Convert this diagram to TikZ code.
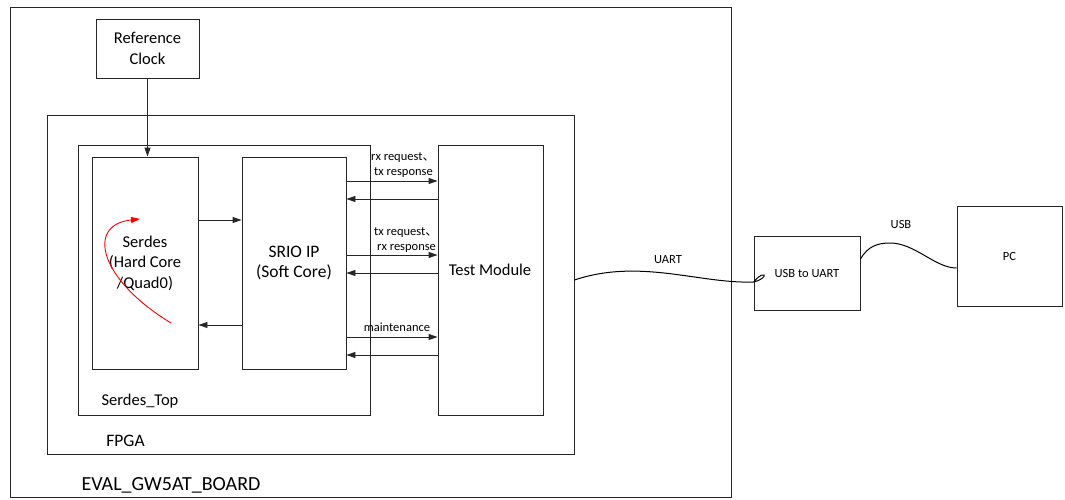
\documentclass[tikz,border=0pt]{standalone}
\usepackage{fontspec}
\setmainfont{Carlito}
\newfontfamily\cjkfont{Noto Sans CJK SC}
\usetikzlibrary{arrows.meta}
\newcommand{\dun}{{\cjkfont 、}}
\tikzset{
  x=1pt, y=-1pt,
  box/.style={draw=black!85, line width=0.9pt, rectangle, inner sep=0pt, align=center},
  bigtxt/.style={font=\fontsize{16.5}{20.5}\selectfont},
  smalltxt/.style={font=\fontsize{12.5}{15}\selectfont, inner sep=0pt},
  link/.style={draw=black!85, line width=0.9pt, -{Triangle[length=9pt,width=6pt]}},
  cable/.style={draw=black, line width=1pt},
  loopmark/.style={draw=red, line width=0.9pt, -{Triangle[length=9pt,width=6pt]}},
}
\begin{document}
\begin{tikzpicture}
\useasboundingbox (0,0) rectangle (1065,500);

% outer containers
\node[box, minimum width=721pt, minimum height=490pt] (board) at (370.5,252) {};
\node[box, minimum width=527pt, minimum height=339pt] (fpga) at (310.5,284.5) {};
\node[box, minimum width=292pt, minimum height=270pt] (top) at (224,280) {};

\node[font=\fontsize{20}{23}\selectfont, inner sep=0pt] (boardlbl) at (171,485) {EVAL\_GW5AT\_BOARD};
\node[font=\fontsize{17.5}{21}\selectfont, inner sep=0pt] (fpgalbl) at (125.5,441) {FPGA};
\node[bigtxt, inner sep=0pt] (toplbl) at (140,401) {Serdes\_Top};

% functional blocks
\node[box, bigtxt, minimum width=103pt, minimum height=59pt] (clk) at (147.5,48.5) {Reference\\Clock};
\node[box, bigtxt, minimum width=106pt, minimum height=212pt] (serdes) at (145,263) {Serdes\\(Hard Core\\/Quad0)};
\node[box, font=\fontsize{17.5}{20}\selectfont, minimum width=104pt, minimum height=212pt] (srio) at (294,263) {SRIO IP\\(Soft Core)};
\node[box, minimum width=105pt, minimum height=270pt] (test) at (490.5,280) {};
\node[bigtxt, inner sep=0pt] (testlbl) at (490,270) {Test Module};
\node[box, font=\fontsize{12.5}{15}\selectfont, minimum width=106pt, minimum height=74pt] (usbuart) at (807,273) {USB to UART};
\node[box, font=\fontsize{12.5}{15}\selectfont, minimum width=105pt, minimum height=100pt] (pc) at (1009.5,256) {PC};

% clock and serdes links
\draw[link] (clk.south) -- (clk.south |- serdes.north);
\draw[link] (serdes.east |- 0,220) -- (srio.west |- 0,220);
\draw[link] (srio.west |- 0,325) -- (serdes.east |- 0,325);

% SRIO <-> test module links
\draw[link] (srio.east |- 0,181) -- (test.west |- 0,181);
\draw[link] (test.west |- 0,199) -- (srio.east |- 0,199);
\draw[link] (srio.east |- 0,255) -- (test.west |- 0,255);
\draw[link] (test.west |- 0,273) -- (srio.east |- 0,273);
\draw[link] (srio.east |- 0,337) -- (test.west |- 0,337);
\draw[link] (test.west |- 0,355) -- (srio.east |- 0,355);

\node[smalltxt, anchor=west] (l1) at (371,158) {rx request\dun};
\node[smalltxt, anchor=west] (l2) at (374,173) {tx response};
\node[smalltxt, anchor=west] (l3) at (374,233) {tx request\dun};
\node[smalltxt, anchor=west] (l4) at (377,248) {rx response};
\node[smalltxt] (l5) at (397,327) {maintenance};

% rotating mark inside the serdes block
\coordinate (rotA) at (171,323);
\coordinate (rotB) at (140,219);
\draw[loopmark] (rotA) .. controls (100,280) and (85,225) .. (rotB);

% UART cable
\coordinate (uartS) at (fpga.east |- 0,280);
\coordinate (uartE) at (usbuart.west |- 0,282);
\draw[cable] (uartS) .. controls (640,258) and (700,284) .. (uartE)
  .. controls (760,281) and (766,276) .. (764,275)
  .. controls (761,274) and (756,279) .. (uartE);
\node[smalltxt] (uartlbl) at (668,260) {UART};

% USB cable
\coordinate (usbS) at (usbuart.east |- 0,259);
\coordinate (usbE) at (pc.west |- 0,268);
\draw[cable] (usbS) .. controls (868,246) and (878,243) .. (890,243)
  .. controls (915,243) and (935,268) .. (usbE);
\node[smalltxt] (usblbl) at (901,224) {USB};
\end{tikzpicture}
\end{document}
